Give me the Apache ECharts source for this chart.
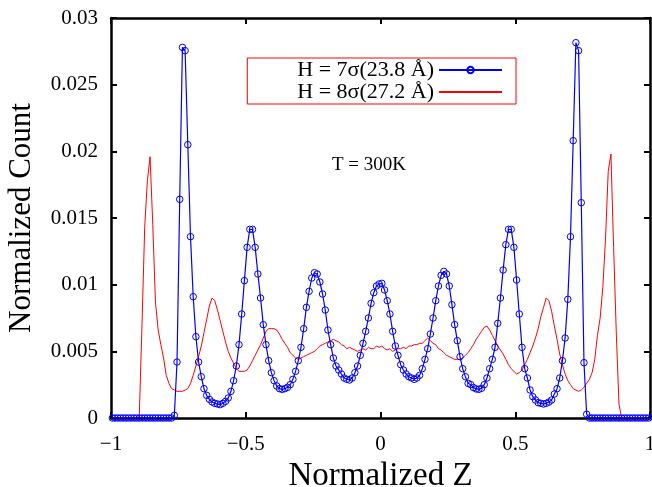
<!DOCTYPE html>
<html>
<head>
<meta charset="utf-8">
<script src="https://cdn.jsdelivr.net/npm/echarts@6/dist/echarts.min.js"></script>
<style>html,body{margin:0;padding:0;background:#fff}#c{width:652px;height:487px}</style>
</head>
<body>
<div id="c"></div>
<script>
// Bin centres of normalized Z
const zBins = [
-0.995,-0.985,-0.975,-0.965,-0.955,-0.945,-0.935,-0.925,-0.915,-0.905,
-0.895,-0.885,-0.875,-0.865,-0.855,-0.845,-0.835,-0.825,-0.815,-0.805,
-0.795,-0.785,-0.775,-0.765,-0.755,-0.745,-0.735,-0.725,-0.715,-0.705,
-0.695,-0.685,-0.675,-0.665,-0.655,-0.645,-0.635,-0.625,-0.615,-0.605,
-0.595,-0.585,-0.575,-0.565,-0.555,-0.545,-0.535,-0.525,-0.515,-0.505,
-0.495,-0.485,-0.475,-0.465,-0.455,-0.445,-0.435,-0.425,-0.415,-0.405,
-0.395,-0.385,-0.375,-0.365,-0.355,-0.345,-0.335,-0.325,-0.315,-0.305,
-0.295,-0.285,-0.275,-0.265,-0.255,-0.245,-0.235,-0.225,-0.215,-0.205,
-0.195,-0.185,-0.175,-0.165,-0.155,-0.145,-0.135,-0.125,-0.115,-0.105,
-0.095,-0.085,-0.075,-0.065,-0.055,-0.045,-0.035,-0.025,-0.015,-0.005,
0.005,0.015,0.025,0.035,0.045,0.055,0.065,0.075,0.085,0.095,
0.105,0.115,0.125,0.135,0.145,0.155,0.165,0.175,0.185,0.195,
0.205,0.215,0.225,0.235,0.245,0.255,0.265,0.275,0.285,0.295,
0.305,0.315,0.325,0.335,0.345,0.355,0.365,0.375,0.385,0.395,
0.405,0.415,0.425,0.435,0.445,0.455,0.465,0.475,0.485,0.495,
0.505,0.515,0.525,0.535,0.545,0.555,0.565,0.575,0.585,0.595,
0.605,0.615,0.625,0.635,0.645,0.655,0.665,0.675,0.685,0.695,
0.705,0.715,0.725,0.735,0.745,0.755,0.765,0.775,0.785,0.795,
0.805,0.815,0.825,0.835,0.845,0.855,0.865,0.875,0.885,0.895,
0.905,0.915,0.925,0.935,0.945,0.955,0.965,0.975,0.985,0.995
];

// H = 7 sigma (23.8 A)
const countH7 = [
0,0,0,0,0,0,0,0,0,0,
0,0,0,0,0,0,0,0,0,0,
0,0,0,0.0002,0.0042,0.0164,0.0278,0.02755,0.0205,0.0136,
0.0091,0.0061,0.0042,0.0031,0.0022,0.0017,0.0014,0.0012,0.0011,0.00105,
0.001,0.0011,0.00125,0.0015,0.002,0.0028,0.0039,0.0055,0.0078,0.0103,
0.0128,0.01415,0.01415,0.0128,0.0108,0.009,0.007,0.0055,0.0043,0.0034,
0.0028,0.0024,0.0022,0.00215,0.0022,0.0023,0.0025,0.0029,0.0035,0.0043,
0.0053,0.0067,0.0083,0.0095,0.0105,0.0109,0.0108,0.0102,0.0093,0.0081,
0.0066,0.0055,0.0045,0.0039,0.0036,0.0033,0.0030,0.0029,0.00285,0.0030,
0.0034,0.0039,0.0047,0.0056,0.0065,0.0075,0.0086,0.0094,0.0099,0.01005,
0.0101,0.0096,0.0088,0.0078,0.0065,0.0054,0.0047,0.0040,0.0036,0.0033,
0.0031,0.0030,0.0029,0.0030,0.0032,0.0037,0.0044,0.0052,0.0063,0.0075,
0.0088,0.0099,0.0107,0.0110,0.0108,0.0099,0.0085,0.0070,0.0058,0.0046,
0.0037,0.0031,0.0026,0.0025,0.00228,0.00218,0.00215,0.00223,0.0025,0.0030,
0.0037,0.0044,0.0053,0.0071,0.0090,0.0111,0.0130,0.01415,0.01415,0.0128,
0.01035,0.0078,0.0053,0.0037,0.0030,0.0021,0.0016,0.00135,0.00115,0.0011,
0.00105,0.0011,0.0012,0.00135,0.0018,0.0022,0.0030,0.0043,0.0060,0.0089,
0.0136,0.0208,0.02815,0.02755,0.01615,0.00415,0.00028,0,0,0,
0,0,0,0,0,0,0,0,0,0,
0,0,0,0,0,0,0,0,0,0
];

// H = 8 sigma (27.2 A)
const countH8 = [
0,0,0,0,0,0,0,0,0,0,
0.0002,0.0070,0.0143,0.0178,0.0196,0.0145,0.0087,0.0066,0.0055,0.0045,
0.0032,0.0026,0.0022,0.0021,0.0020,0.0020,0.0020,0.0021,0.0022,0.0026,
0.0032,0.0039,0.0046,0.0054,0.0064,0.0074,0.0084,0.0090,0.0088,0.0081,
0.0073,0.0065,0.0057,0.0050,0.0045,0.0041,0.0037,0.0035,0.0035,0.0035,
0.0036,0.0039,0.0043,0.0047,0.0051,0.0055,0.0060,0.0065,0.0067,0.0067,
0.0067,0.0066,0.0063,0.0059,0.0056,0.0053,0.0049,0.0047,0.0045,0.0044,
0.0045,0.0046,0.0047,0.0048,0.0049,0.0050,0.0052,0.0054,0.0055,0.0056,
0.0057,0.0058,0.0059,0.0058,0.0057,0.0055,0.0054,0.0052,0.0053,0.0052,
0.0051,0.0050,0.0051,0.0052,0.0051,0.0053,0.0052,0.0052,0.0054,0.0053,
0.0054,0.0052,0.0051,0.0052,0.0050,0.0051,0.0052,0.0052,0.0053,0.0052,
0.0054,0.0054,0.0055,0.0055,0.0056,0.0056,0.0058,0.0060,0.0058,0.0056,
0.0055,0.0052,0.0051,0.0049,0.0047,0.0046,0.0045,0.0044,0.0044,0.0044,
0.0045,0.0047,0.0049,0.0052,0.0055,0.0059,0.0062,0.0065,0.0068,0.0069,
0.0066,0.0062,0.0058,0.0054,0.0051,0.0048,0.0044,0.0040,0.0037,0.0035,
0.0033,0.0034,0.0036,0.0040,0.0044,0.0049,0.0054,0.0060,0.0067,0.0076,
0.0083,0.0090,0.0088,0.0080,0.0069,0.0059,0.0048,0.0040,0.0033,0.0028,
0.0025,0.0022,0.0021,0.0020,0.0021,0.0023,0.0026,0.0029,0.0034,0.0044,
0.0062,0.0075,0.0098,0.0135,0.0185,0.0198,0.0128,0.0063,0.0010,0,
0,0,0,0,0,0,0,0,0,0
];

const seriesNames = ['H = 7\u03c3(23.8 \u00c5)', 'H = 8\u03c3(27.2 \u00c5)'];
const xTicks = [-1, -0.5, 0, 0.5, 1];
const yTicks = [0, 0.005, 0.01, 0.015, 0.02, 0.025, 0.03];
const annotation = 'T = 300K';

const FONT = 'Liberation Serif';
const pair = (ys) => zBins.map((z, i) => [z, ys[i]]);
const fmtX = v => (v < 0 ? '\u2212' + Math.abs(v) : String(v));

const axisLine = {show: true, onZero: false, lineStyle: {color: '#000', width: 2.5}};
const axisTick = {show: true, inside: true, length: 6, lineStyle: {color: '#000', width: 2}};

const chart = echarts.init(document.getElementById('c'), null, {renderer: 'canvas'});
chart.setOption({
  animation: false,
  backgroundColor: '#fff',
  title: {
    text: annotation, left: 327, top: 151,
    textStyle: {fontFamily: FONT, fontSize: 19, fontWeight: 'normal', color: '#000'}
  },
  legend: {
    data: [
      {name: seriesNames[0]},
      {name: seriesNames[1], itemStyle: {color: 'rgba(0,0,0,0)', borderWidth: 0, opacity: 0}}
    ],
    orient: 'vertical', align: 'right',
    right: 136, top: 58,
    padding: [1, 13, 1, 50],
    itemGap: 0, itemWidth: 63, itemHeight: 8,
    borderColor: '#ff0000', borderWidth: 1,
    textStyle: {fontFamily: FONT, fontSize: 22, color: '#000', lineHeight: 21}
  },
  grid: {left: 111, right: 2, top: 18, bottom: 69, containLabel: false, outerBoundsMode: 'none'},
  xAxis: [{
    type: 'value', min: xTicks[0], max: xTicks[xTicks.length - 1], interval: 0.5,
    position: 'bottom', axisLine, axisTick,
    splitLine: {show: false},
    axisLabel: {formatter: fmtX, fontFamily: FONT, fontSize: 21, color: '#000', margin: 16, showMaxLabel: true, showMinLabel: true, hideOverlap: false},
    name: 'Normalized Z', nameLocation: 'middle', nameGap: 42,
    nameTextStyle: {fontFamily: FONT, fontSize: 33, color: '#000'}
  }, {
    type: 'value', min: xTicks[0], max: xTicks[xTicks.length - 1], interval: 0.5,
    position: 'top', axisLine, axisTick,
    splitLine: {show: false}, axisLabel: {show: false}
  }],
  yAxis: [{
    type: 'value', min: yTicks[0], max: yTicks[yTicks.length - 1], interval: 0.005,
    position: 'left', axisLine, axisTick,
    splitLine: {show: false},
    axisLabel: {fontFamily: FONT, fontSize: 21, color: '#000', margin: 13, formatter: v => String(+v.toFixed(4))},
    name: 'Normalized Count', nameLocation: 'middle', nameGap: 74,
    nameTextStyle: {fontFamily: FONT, fontSize: 31, color: '#000'}
  }, {
    type: 'value', min: yTicks[0], max: yTicks[yTicks.length - 1], interval: 0.005,
    position: 'right', axisLine, axisTick,
    splitLine: {show: false}, axisLabel: {show: false}
  }],
  series: [{
    name: seriesNames[0], type: 'line', data: pair(countH7),
    xAxisIndex: 0, yAxisIndex: 0,
    symbol: 'circle', symbolSize: 6.5, showSymbol: true,
    lineStyle: {color: '#0000ff', width: 1.2},
    itemStyle: {color: 'rgba(255,255,255,0)', borderColor: '#0000ff', borderWidth: 1},
    z: 3
  }, {
    name: seriesNames[1], type: 'line', data: pair(countH8),
    xAxisIndex: 0, yAxisIndex: 0,
    symbol: 'none',
    lineStyle: {color: '#ff0000', width: 1},
    itemStyle: {color: '#ff0000'},
    z: 2
  }]
});
</script>
</body>
</html>
